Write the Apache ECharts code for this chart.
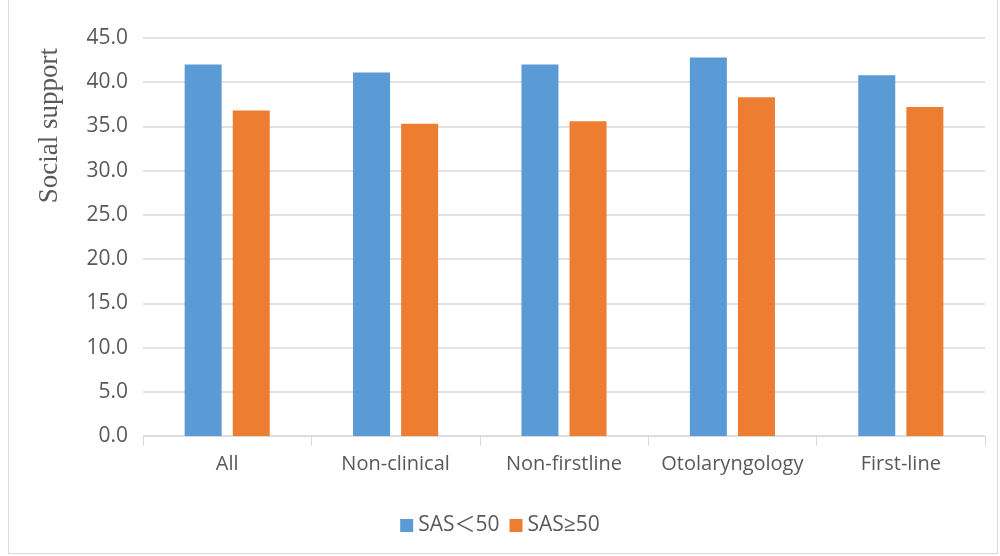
<!DOCTYPE html>
<html><head><meta charset="utf-8">
<script src="https://cdn.jsdelivr.net/npm/echarts@6/dist/echarts.min.js"></script>
<style>html,body{margin:0;padding:0;background:#fff}
#frame{position:absolute;left:8px;top:-2px;width:990px;height:556px;border:1px solid #d9d9d9;box-sizing:border-box}
#c{position:absolute;left:0;top:0;width:1000px;height:556px}</style>
</head><body><div id="frame"></div><div id="c"></div>
<script>
const categories = ['All','Non-clinical','Non-firstline','Otolaryngology','First-line'];
const sasLow = [42.0, 41.1, 42.0, 42.8, 40.8];
const sasHigh = [36.8, 35.3, 35.6, 38.3, 37.2];
const seriesNames = ['SAS\uFF1C50','SAS\u226550'];
const yName = 'Social support';
const chart = echarts.init(document.getElementById('c'));
const txt = '#595959', ff = '"Open Sans", "Noto Sans CJK SC", sans-serif';
chart.setOption({
  animation:false,
  grid:{left:143,right:15,top:38,bottom:120},
  graphic:[{type:'text',left:36,top:48,rotation:Math.PI/2,
    style:{text:yName,fill:txt,font:'27px "Liberation Serif", serif'}}],
  legend:{top:510,left:'center',itemWidth:13,itemHeight:13,itemGap:10,icon:'rect',
    textStyle:{color:txt,fontSize:21,fontFamily:ff}},
  xAxis:{type:'category',data:categories,
    axisLine:{lineStyle:{color:'#d9d9d9'}},
    axisTick:{show:true,length:10,lineStyle:{color:'#d9d9d9'}},
    axisLabel:{color:txt,fontSize:20,fontFamily:ff,margin:18,interval:0}},
  yAxis:{type:'value',min:0,max:45,interval:5,
    axisLabel:{color:txt,fontSize:21,fontFamily:ff,margin:15,formatter:v=>v.toFixed(1)},
    axisLine:{show:false},axisTick:{show:false},
    splitLine:{lineStyle:{color:'#d9d9d9',width:1.5}}},
  series:[
    {name:seriesNames[0],type:'bar',data:sasLow,barWidth:37,barGap:'30%',itemStyle:{color:'#5b9bd5'}},
    {name:seriesNames[1],type:'bar',data:sasHigh,barWidth:37,itemStyle:{color:'#ed7d31'}}
  ]
});
</script></body></html>
